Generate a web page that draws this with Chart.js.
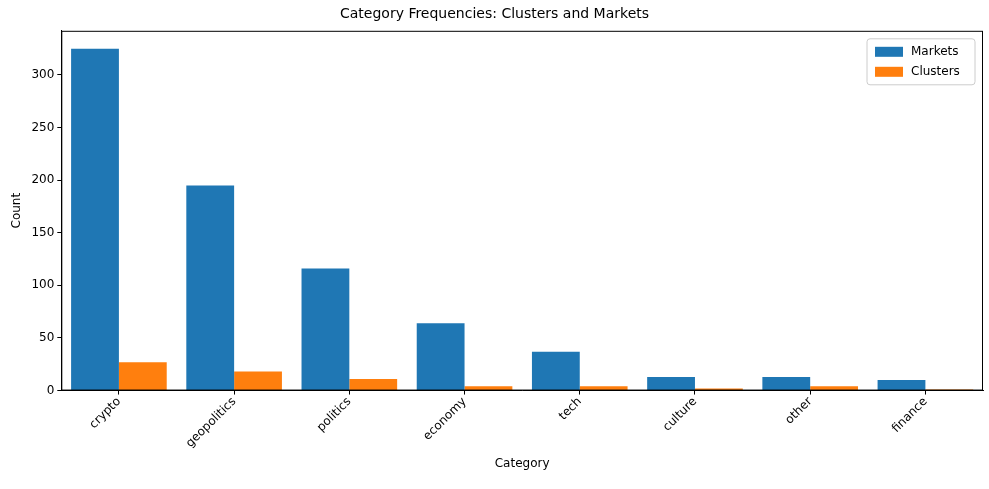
<!DOCTYPE html>
<html lang="en">
<head>
<meta charset="UTF-8" />
<title>Category Frequencies</title>
<script src="https://cdn.jsdelivr.net/npm/chart.js"></script>
<style>
  body { margin: 0; background: #fff; }
  #wrap { width: 989px; height: 489px; }
</style>
</head>
<body>
<div id="wrap"><canvas id="chart"></canvas></div>
<script>
const categories = ['crypto', 'geopolitics', 'politics', 'economy', 'tech', 'culture', 'other', 'finance']
const markets = [325, 195, 116, 64, 37, 13, 13, 10]
const clusters = [27, 18, 11, 4, 4, 2, 4, 1]
const yTicks = [0, 50, 100, 150, 200, 250, 300]

const font = { family: 'DejaVu Sans', size: 12 }

// frame around the plot + legend inside the top-right corner
const framePlugin = {
  id: 'frame',
  afterDraw(chart) {
    const { ctx, chartArea: a } = chart
    ctx.save()
    ctx.strokeStyle = '#000'
    ctx.lineWidth = 1
    ctx.strokeRect(a.left + 0.5, a.top + 0.5, a.right - a.left - 1, a.bottom - a.top - 1)

    const items = chart.data.datasets.map(d => [d.label, d.backgroundColor])
    const w = 108, h = 46
    const x = a.right - w - 8, y = a.top + 8
    ctx.fillStyle = 'rgba(255,255,255,0.8)'
    ctx.strokeStyle = '#cccccc'
    ctx.beginPath()
    ctx.roundRect(x, y, w, h, 3)
    ctx.fill()
    ctx.stroke()
    ctx.font = '12px "DejaVu Sans"'
    ctx.textBaseline = 'middle'
    items.forEach(([label, color], i) => {
      const cy = y + 13 + i * 20
      ctx.fillStyle = color
      ctx.fillRect(x + 8, cy - 5, 28, 10)
      ctx.fillStyle = '#000'
      ctx.fillText(label, x + 44, cy)
    })
    ctx.restore()
  }
}

new Chart(document.getElementById('chart'), {
  type: 'bar',
  data: {
    labels: categories,
    datasets: [
      { label: 'Markets', data: markets, backgroundColor: '#1f77b4' },
      { label: 'Clusters', data: clusters, backgroundColor: '#ff7f0e' }
    ]
  },
  options: {
    responsive: true,
    maintainAspectRatio: false,
    animation: false,
    layout: { padding: { left: 6, right: 6, top: 2, bottom: 14 } },
    datasets: { bar: { categoryPercentage: 0.83, barPercentage: 1.0 } },
    plugins: {
      legend: { display: false },
      tooltip: { enabled: false },
      title: {
        display: true,
        text: 'Category Frequencies: Clusters and Markets',
        color: '#000',
        font: { family: 'DejaVu Sans', size: 14, weight: 'normal' },
        padding: { top: 4, bottom: 8 }
      }
    },
    scales: {
      x: {
        grid: { drawOnChartArea: false, offset: false, tickLength: 4, color: '#000' },
        border: { color: '#000' },
        ticks: { color: '#000', font, minRotation: 45, maxRotation: 45, padding: 0 },
        title: { display: true, text: 'Category', color: '#000', font, padding: { top: 6 } }
      },
      y: {
        min: 0,
        max: 342,
        afterBuildTicks(axis) { axis.ticks = yTicks.map(v => ({ value: v })) },
        grid: { drawOnChartArea: false, tickLength: 4, color: '#000' },
        border: { color: '#000' },
        ticks: { color: '#000', font },
        title: { display: true, text: 'Count', color: '#000', font }
      }
    }
  },
  plugins: [framePlugin]
})
</script>
</body>
</html>
